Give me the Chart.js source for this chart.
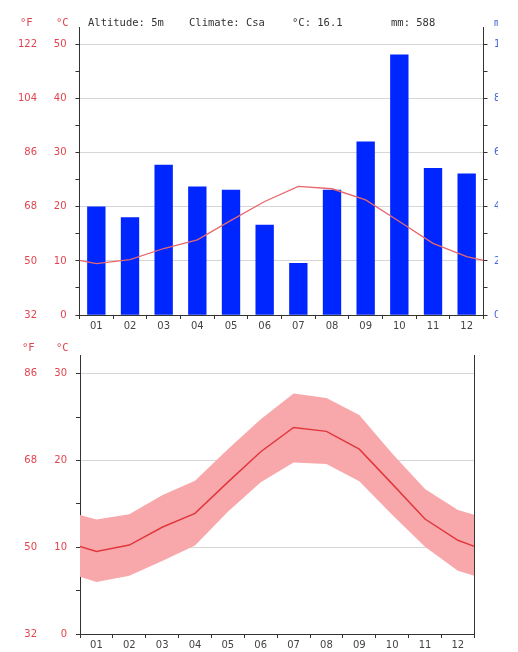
<!DOCTYPE html>
<html>
<head>
<meta charset="utf-8">
<script src="https://cdn.jsdelivr.net/npm/chart.js@4.4.1/dist/chart.umd.min.js"></script>
<style>
  html, body { margin: 0; padding: 0; background: #ffffff; }
  body { width: 518px; height: 652px; position: relative; overflow: hidden; }
  canvas { position: absolute; left: 0; }
  #top { top: 0; }
  #bottom { top: 340px; }
</style>
</head>
<body>
<canvas id="top" width="498" height="340"></canvas>
<canvas id="bottom" width="498" height="312"></canvas>
<script>
// ---- data ----
const months = ['01','02','03','04','05','06','07','08','09','10','11','12'];
const precipMm = [40, 36, 55.5, 47.4, 46.2, 33.3, 19.1, 46.2, 64.1, 96.2, 54.3, 52.2];
const tempMean = [9.5, 10.25, 12.3, 13.9, 17.5, 21.0, 23.8, 23.35, 21.3, 17.3, 13.25, 10.8];
const tempMax  = [13.2, 13.8, 16.0, 17.65, 21.3, 24.75, 27.7, 27.2, 25.25, 20.8, 16.7, 14.3];
const tempMin  = [6.0, 6.7, 8.4, 10.2, 14.1, 17.5, 19.75, 19.6, 17.6, 13.75, 10.05, 7.3];
// values where the curves meet the left / right axis
const edgeMean = [10.1, 10.1];
const edgeMax  = [13.7, 13.75];
const edgeMin  = [6.6, 6.7];
const tempTicksTop = [0, 5, 10, 15, 20, 25, 30, 35, 40, 45, 50];
const precipTicks = [0, 10, 20, 30, 40, 50, 60, 70, 80, 90, 100];
const tempTicksBottom = [0, 5, 10, 15, 20, 25, 30];
const header = [
  { text: 'Altitude: 5m', x: 88 },
  { text: 'Climate: Csa', x: 189 },
  { text: '°C: 16.1', x: 292 },
  { text: 'mm: 588', x: 391 }
];

// ---- styles ----
const RED = '#e2444f';
const BLUE = '#4566dc';
const BAR = '#0026ff';
const AXIS = '#333333';
const GRID = '#d6d6d6';
const TICKFONT = { family: 'DejaVu Sans', size: 10 };

function series(edge, vals) {
  const pts = [{ x: 0, y: edge[0] }];
  vals.forEach((v, i) => pts.push({ x: i + 0.5, y: v }));
  pts.push({ x: vals.length, y: edge[1] });
  return pts;
}
function fixTicks(list) {
  return s => { s.ticks = list.map(v => ({ value: v })); };
}
function fixWidth(w) { return s => { s.width = w; }; }
function fixHeight(h) { return s => { s.height = h; }; }
function gridAt10(ctx) {
  const v = ctx.tick ? ctx.tick.value : 0;
  return (v > 0 && v % 10 === 0) ? GRID : 'rgba(0,0,0,0)';
}

const textPlugin = (items) => ({
  id: 'texts',
  afterDraw(chart) {
    const c = chart.ctx;
    c.save();
    c.textBaseline = 'middle';
    c.textAlign = 'left';
    items.forEach(it => {
      c.font = it.font;
      c.fillStyle = it.color;
      c.fillText(it.text, it.x, it.y);
    });
    c.restore();
  }
});

const monoFont = '10.5px "DejaVu Sans Mono"';
const topTexts = [
  { text: '°F', x: 20, y: 23, color: RED, font: monoFont },
  { text: '°C', x: 56, y: 23, color: RED, font: monoFont },
  { text: 'mm', x: 494, y: 23, color: BLUE, font: monoFont }
].concat(header.map(h => ({ text: h.text, x: h.x, y: 23, color: '#333', font: monoFont })));

const topMaxC = 53.27;

new Chart(document.getElementById('top'), {
  type: 'bar',
  data: {
    labels: months,
    datasets: [
      {
        type: 'bar',
        data: precipMm,
        xAxisID: 'x',
        yAxisID: 'yP',
        backgroundColor: BAR,
        borderWidth: 0,
        grouped: false,
        barThickness: 17.7,
        order: 1
      },
      {
        type: 'line',
        data: series(edgeMean, tempMean),
        xAxisID: 'xl',
        yAxisID: 'yC',
        borderColor: '#e8676d',
        borderWidth: 1.3,
        pointRadius: 0,
        tension: 0,
        fill: false,
        order: 0
      }
    ]
  },
  options: {
    responsive: false,
    animation: false,
    devicePixelRatio: 1,
    layout: { padding: { top: 27, left: 0, right: 0, bottom: 0 } },
    plugins: { legend: { display: false }, tooltip: { enabled: false }, title: { display: false } },
    scales: {
      x: {
        type: 'category',
        offset: true,
        grid: { offset: true, drawOnChartArea: false, tickLength: 4, tickColor: AXIS },
        border: { color: AXIS, width: 1 },
        ticks: { color: '#444', font: TICKFONT, padding: 1, maxRotation: 0, autoSkip: false },
        afterFit: fixHeight(25)
      },
      xl: { type: 'linear', display: false, min: 0, max: 12, offset: false, grid: { offset: false } },
      yC: {
        type: 'linear', position: 'left', weight: 0,
        min: 0, max: topMaxC,
        afterBuildTicks: fixTicks(tempTicksTop),
        grid: { color: gridAt10, tickColor: AXIS, tickLength: 4 },
        border: { color: AXIS, width: 1 },
        ticks: { color: RED, font: TICKFONT, padding: 9, callback: v => (v % 10 === 0 ? String(v) : '') },
        afterFit: fixWidth(39.5)
      },
      yF: {
        type: 'linear', position: 'left', weight: 1,
        min: 0, max: topMaxC,
        afterBuildTicks: fixTicks(tempTicksTop),
        grid: { display: false, drawTicks: false },
        border: { display: false },
        ticks: { color: RED, font: TICKFONT, padding: 3, callback: v => (v % 10 === 0 ? String(Math.round(v * 9 / 5 + 32)) : '') },
        afterFit: fixWidth(40)
      },
      yP: {
        type: 'linear', position: 'right',
        min: 0, max: topMaxC * 2,
        afterBuildTicks: fixTicks(precipTicks),
        grid: { drawOnChartArea: false, tickColor: AXIS, tickLength: 4 },
        border: { color: AXIS, width: 1 },
        ticks: { color: BLUE, font: TICKFONT, padding: 6.5, callback: v => (v % 20 === 0 ? String(v) : '') },
        afterFit: fixWidth(14.5)
      }
    }
  },
  plugins: [textPlugin(topTexts)]
});

const bottomTexts = [
  { text: '°F', x: 22, y: 8, color: RED, font: monoFont },
  { text: '°C', x: 56, y: 8, color: RED, font: monoFont }
];
const botMaxC = 32.15;

new Chart(document.getElementById('bottom'), {
  type: 'line',
  data: {
    labels: months,
    datasets: [
      {
        data: series(edgeMax, tempMax),
        xAxisID: 'xl', yAxisID: 'yC',
        borderWidth: 0, borderColor: 'rgba(0,0,0,0)',
        backgroundColor: '#f8a8aa',
        fill: '+1', pointRadius: 0, tension: 0,
        order: 2
      },
      {
        data: series(edgeMin, tempMin),
        xAxisID: 'xl', yAxisID: 'yC',
        borderWidth: 0, borderColor: 'rgba(0,0,0,0)',
        fill: false, pointRadius: 0, tension: 0,
        order: 1
      },
      {
        data: series(edgeMean, tempMean),
        xAxisID: 'xl', yAxisID: 'yC',
        borderColor: '#e0383e', borderWidth: 1.5,
        fill: false, pointRadius: 0, tension: 0,
        order: 0
      }
    ]
  },
  options: {
    responsive: false,
    animation: false,
    devicePixelRatio: 1,
    layout: { padding: { top: 11.7, left: 0, right: 0, bottom: 0 } },
    plugins: { legend: { display: false }, tooltip: { enabled: false }, title: { display: false }, filler: { drawTime: 'beforeDatasetsDraw' } },
    scales: {
      x: {
        type: 'category',
        offset: true,
        grid: { offset: true, drawOnChartArea: false, tickLength: 4, tickColor: AXIS },
        border: { color: AXIS, width: 1 },
        ticks: { color: '#444', font: TICKFONT, padding: 1, maxRotation: 0, autoSkip: false },
        afterFit: fixHeight(18)
      },
      xl: { type: 'linear', display: false, min: 0, max: 12, offset: false },
      yC: {
        type: 'linear', position: 'left', weight: 0,
        min: 0, max: botMaxC,
        afterBuildTicks: fixTicks(tempTicksBottom),
        grid: { color: gridAt10, tickColor: AXIS, tickLength: 4 },
        border: { color: AXIS, width: 1 },
        ticks: { color: RED, font: TICKFONT, padding: 9, callback: v => (v % 10 === 0 ? String(v) : '') },
        afterFit: fixWidth(40)
      },
      yF: {
        type: 'linear', position: 'left', weight: 1,
        min: 0, max: botMaxC,
        afterBuildTicks: fixTicks(tempTicksBottom),
        grid: { display: false, drawTicks: false },
        border: { display: false },
        ticks: { color: RED, font: TICKFONT, padding: 3, callback: v => (v % 10 === 0 ? String(Math.round(v * 9 / 5 + 32)) : '') },
        afterFit: fixWidth(40)
      },
      yR: {
        type: 'linear', position: 'right',
        min: 0, max: botMaxC,
        grid: { drawOnChartArea: false, drawTicks: false },
        border: { color: AXIS, width: 1 },
        ticks: { display: false },
        afterFit: fixWidth(23.7)
      }
    }
  },
  plugins: [textPlugin(bottomTexts)]
});
</script>
</body>
</html>
